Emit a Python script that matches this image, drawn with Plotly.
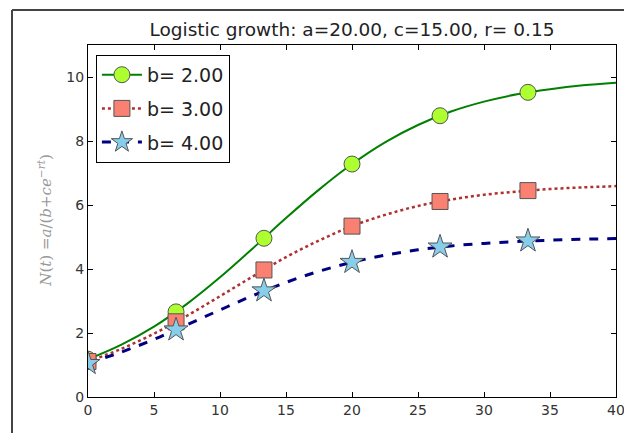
import plotly.graph_objects as go

# values
t_line = [0, 2.5, 5, 7.5, 10, 12.5, 15, 17.5, 20, 22.5, 25, 27.5, 30, 32.5, 35, 37.5, 40]
n_b2 = [1.18, 1.63, 2.20, 2.91, 3.74, 4.65, 5.59, 6.48, 7.28, 7.96, 8.50, 8.92, 9.23, 9.46, 9.62, 9.74, 9.82]
n_b3 = [1.11, 1.50, 1.98, 2.54, 3.15, 3.77, 4.37, 4.89, 5.34, 5.69, 5.97, 6.17, 6.32, 6.42, 6.50, 6.55, 6.59]
n_b4 = [1.05, 1.40, 1.80, 2.26, 2.72, 3.17, 3.58, 3.93, 4.21, 4.43, 4.60, 4.72, 4.80, 4.86, 4.90, 4.93, 4.95]

t_mark = [0, 6.67, 13.33, 20, 26.67, 33.33]
m_b2 = [1.18, 2.66, 4.96, 7.28, 8.79, 9.52]
m_b3 = [1.11, 2.35, 3.97, 5.34, 6.11, 6.45]
m_b4 = [1.05, 2.10, 3.32, 4.21, 4.69, 4.88]

labels = ["b= 2.00", "b= 3.00", "b= 4.00"]

series = [
    (n_b2, m_b2, dict(color="green", width=2, dash="solid"),
     dict(symbol="circle", size=16, color="#adff2f")),
    (n_b3, m_b3, dict(color="#b03030", width=2.5, dash="dot"),
     dict(symbol="square", size=16, color="#fa8072")),
    (n_b4, m_b4, dict(color="#000080", width=3, dash="dash"),
     dict(symbol="star", size=18, color="#87ceeb")),
]

fig = go.Figure()
for name, (ys, ms, line, marker) in zip(labels, series):
    marker["line"] = dict(color="#555555", width=1)
    fig.add_trace(go.Scatter(x=t_line, y=ys, mode="lines", line=dict(shape="spline", **line),
                             legendgroup=name, showlegend=False, hoverinfo="skip"))
    fig.add_trace(go.Scatter(x=t_mark, y=ms, mode="markers", marker=marker,
                             legendgroup=name, showlegend=False))
    # legend entry
    fig.add_trace(go.Scatter(x=[None], y=[None], mode="lines+markers", name=name,
                             line=line, marker=marker, legendgroup=name))

axis_common = dict(showline=True, linecolor="black", linewidth=1, mirror="ticks",
                   ticks="inside", ticklen=5, tickcolor="black", showgrid=False,
                   zeroline=False, ticklabeloverflow="allow", automargin=False,
                   tickfont=dict(size=14, color="#333333"))

fig.update_layout(
    width=624, height=433,
    margin=dict(l=88, r=8, t=45, b=36),
    paper_bgcolor="white", plot_bgcolor="white",
    font=dict(family="DejaVu Sans", color="#222222"),
    title=dict(text="Logistic growth: a=20.00, c=15.00, r= 0.15",
               x=352 / 624, xanchor="center", y=1 - 30 / 433, yanchor="middle",
               font=dict(size=18.5, color="#222222")),
    xaxis=dict(range=[0, 40], tickvals=[0, 5, 10, 15, 20, 25, 30, 35, 40], **axis_common),
    yaxis=dict(range=[0, 11], tickvals=[0, 2, 4, 6, 8, 10], **axis_common),
    legend=dict(x=0.015, y=0.972, xanchor="left", yanchor="top",
                bordercolor="black", borderwidth=1, bgcolor="white",
                font=dict(size=19, color="#222222"), traceorder="grouped",
                tracegroupgap=6, itemwidth=40),
    showlegend=True,
)

# y axis label (rotated, grey, math style)
fig.add_annotation(
    text="<i>N</i>(<i>t</i>) =<i>a</i>/(<i>b</i>+<i>ce</i><sup>−<i>rt</i></sup>)",
    xref="paper", yref="paper", x=-0.082, y=0.5, xanchor="center", yanchor="middle",
    textangle=-90, showarrow=False,
    font=dict(family="DejaVu Serif", size=15, color="#999999"),
)
# x axis label, mostly cut off by the bottom of the picture
fig.add_annotation(text="<i>t</i>", xref="paper", yref="paper", x=0.5, y=-0.095,
                   xanchor="center", yanchor="top", showarrow=False,
                   font=dict(family="DejaVu Serif", size=12, color="#999999"))

# frame of the screenshot (top and left edges)
fig.add_shape(type="line", xref="paper", yref="paper",
              x0=-76 / 528, x1=1.02, y0=1 + 35 / 352, y1=1 + 35 / 352,
              line=dict(color="#444444", width=2))
fig.add_shape(type="line", xref="paper", yref="paper",
              x0=-76 / 528, x1=-76 / 528, y0=1 + 35 / 352, y1=-0.2,
              line=dict(color="#444444", width=2))

fig.write_html("out.html", config={"displayModeBar": False},
               post_script="document.body.style.margin='0';"
                           "document.body.style.overflow='hidden';")
